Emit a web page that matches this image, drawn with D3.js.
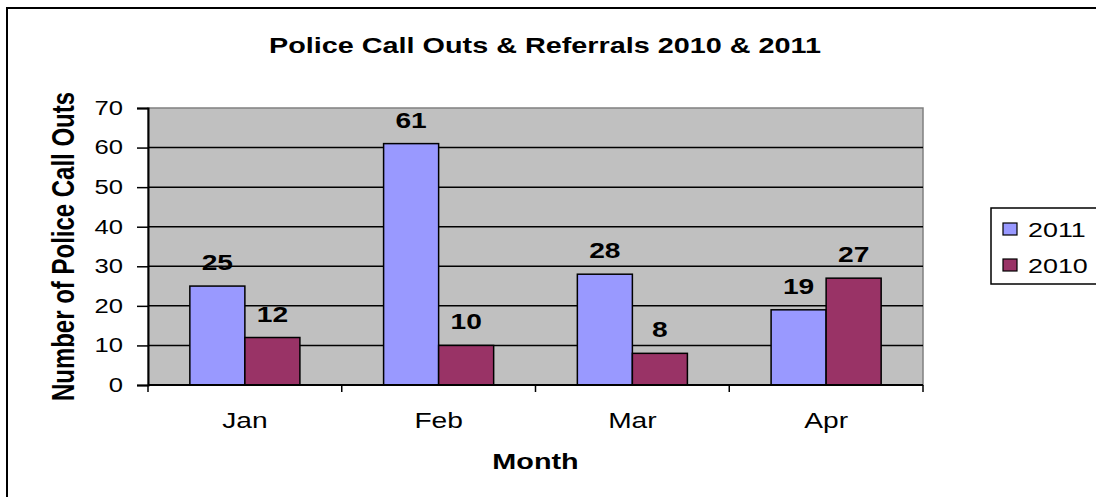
<!DOCTYPE html>
<meta charset="utf-8">
<html>
<head>
<script src="https://cdn.jsdelivr.net/npm/d3@7"></script>
<style>
body { margin: 0; background: white; }
text { font-family: "Liberation Sans", Arial, sans-serif; fill: black; }
</style>
</head>
<body>
<script>

// chart data
var months = ["Jan", "Feb", "Mar", "Apr"];
var seriesNames = ["2011", "2010"];
var values2011 = [25, 61, 28, 19];
var values2010 = [12, 10, 8, 27];
var yTicks = [0, 10, 20, 30, 40, 50, 60, 70];
var colors = ["#9999ff", "#993366"];

var W = 1096, H = 497;
var plot = { left: 148, top: 108, width: 775, height: 277 };
// the original picture is stretched sideways, so all text gets widened
var SX = 1.28;

var svg = d3.select("body").append("svg")
  .attr("width", W)
  .attr("height", H);

// place a text at (x,y) widened by SX around its anchor
function stretched(sel, xf, yf) {
  sel.attr("transform", function(d, i) {
    var x = typeof xf === "function" ? xf(d, i) : xf;
    var y = typeof yf === "function" ? yf(d, i) : yf;
    return "translate(" + x + "," + y + ") scale(" + SX + ",1)";
  });
  return sel;
}

// outer chart frame (runs off the right and bottom edges)
svg.append("rect")
  .attr("x", 7).attr("y", 8)
  .attr("width", 1110).attr("height", 510)
  .style("fill", "white")
  .style("stroke", "black")
  .style("stroke-width", 2);

var x0 = d3.scaleBand()
  .domain(months)
  .range([plot.left, plot.left + plot.width])
  .paddingInner(0.432)
  .paddingOuter(0.216);

var x1 = d3.scaleBand()
  .domain(seriesNames)
  .range([0, x0.bandwidth()]);

var y = d3.scaleLinear()
  .domain([0, 70])
  .range([plot.top + plot.height, plot.top]);

// plot background
svg.append("rect")
  .attr("x", plot.left).attr("y", plot.top)
  .attr("width", plot.width).attr("height", plot.height)
  .style("fill", "#c0c0c0")
  .style("stroke", "#808080")
  .style("stroke-width", 1.5);

// gridlines
svg.selectAll("line.grid")
  .data(yTicks.filter(function(d) { return d > 0 && d < 70; }))
  .enter().append("line")
  .attr("class", "grid")
  .attr("x1", plot.left).attr("x2", plot.left + plot.width)
  .attr("y1", function(d) { return y(d); })
  .attr("y2", function(d) { return y(d); })
  .style("stroke", "black")
  .style("stroke-width", 1.5);

// bars
var rows = months.map(function(m, i) {
  return { month: m, vals: [
    { name: "2011", v: values2011[i] },
    { name: "2010", v: values2010[i] }
  ] };
});

var groups = svg.selectAll("g.month")
  .data(rows)
  .enter().append("g")
  .attr("class", "month")
  .attr("transform", function(d) { return "translate(" + x0(d.month) + ",0)"; });

groups.selectAll("rect")
  .data(function(d) { return d.vals; })
  .enter().append("rect")
  .attr("x", function(d) { return x1(d.name); })
  .attr("y", function(d) { return y(d.v); })
  .attr("width", x1.bandwidth())
  .attr("height", function(d) { return y(0) - y(d.v); })
  .style("fill", function(d, i) { return colors[i]; })
  .style("stroke", "black")
  .style("stroke-width", 1.5);

var vals = groups.selectAll("text.val")
  .data(function(d) { return d.vals; })
  .enter().append("text")
  .attr("class", "val")
  .attr("text-anchor", "middle")
  .style("font-size", "22px")
  .style("font-weight", "bold")
  .text(function(d) { return d.v; });
stretched(vals,
  function(d) { return x1(d.name) + x1.bandwidth() / 2; },
  function(d) { return y(d.v) - 16; });

// y axis
var yAxis = d3.axisLeft(y)
  .tickValues(yTicks)
  .tickSize(11)
  .tickPadding(14);

var gy = svg.append("g")
  .attr("transform", "translate(" + plot.left + ",0)")
  .call(yAxis);
gy.select(".domain").attr("stroke", "black").attr("stroke-width", 2);
gy.selectAll(".tick line").attr("stroke", "black").attr("stroke-width", 1.5);
gy.selectAll(".tick text")
  .attr("x", -25 / SX)
  .attr("transform", "scale(" + SX + ",1)")
  .style("font-size", "20px")
  .style("font-family", "'Liberation Sans', Arial, sans-serif")
  .attr("fill", "black");

// x axis: ticks at category boundaries
var xAxisLine = svg.append("g");
xAxisLine.append("line")
  .attr("x1", plot.left).attr("x2", plot.left + plot.width)
  .attr("y1", y(0)).attr("y2", y(0))
  .style("stroke", "black").style("stroke-width", 2);
xAxisLine.selectAll("line.xt")
  .data(d3.range(months.length + 1))
  .enter().append("line")
  .attr("class", "xt")
  .attr("x1", function(i) { return plot.left + i * x0.step(); })
  .attr("x2", function(i) { return plot.left + i * x0.step(); })
  .attr("y1", y(0)).attr("y2", y(0) + 7)
  .style("stroke", "black").style("stroke-width", 1.5);

var monthLabels = svg.selectAll("text.mlabel")
  .data(months)
  .enter().append("text")
  .attr("class", "mlabel")
  .attr("text-anchor", "middle")
  .style("font-size", "22px")
  .text(function(d) { return d; });
stretched(monthLabels,
  function(d) { return x0(d) + x0.bandwidth() / 2; }, 428);

// titles
stretched(svg.append("text")
  .attr("text-anchor", "middle")
  .style("font-size", "22.5px")
  .style("font-weight", "bold")
  .text("Police Call Outs & Referrals 2010 & 2011"), 545, 53);

stretched(svg.append("text")
  .attr("text-anchor", "middle")
  .style("font-size", "22.5px")
  .style("font-weight", "bold")
  .text("Month"), plot.left + plot.width / 2, 469);

svg.append("text")
  .attr("transform", "translate(74," + (plot.top + plot.height / 2) + ") scale(" + SX + ",1) rotate(-90)")
  .attr("text-anchor", "middle")
  .style("font-size", "24px")
  .style("font-weight", "bold")
  .text("Number of Police Call Outs");

// legend
var legend = svg.append("g");
legend.append("rect")
  .attr("x", 991).attr("y", 208)
  .attr("width", 130).attr("height", 76)
  .style("fill", "white")
  .style("stroke", "black")
  .style("stroke-width", 1.5);

var items = legend.selectAll("g.item")
  .data(seriesNames)
  .enter().append("g")
  .attr("class", "item")
  .attr("transform", function(d, i) { return "translate(1003," + (223 + i * 36) + ")"; });

items.append("rect")
  .attr("width", 14).attr("height", 12)
  .style("fill", function(d, i) { return colors[i]; })
  .style("stroke", "black")
  .style("stroke-width", 1.2);

stretched(items.append("text")
  .style("font-size", "21px")
  .text(function(d) { return d; }), 25, 14);

</script>
</body>
</html>
